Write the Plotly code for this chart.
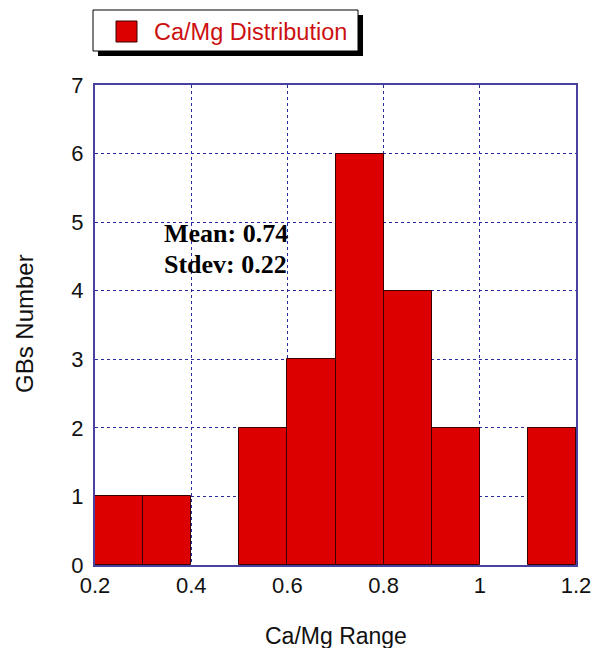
import plotly.graph_objects as go

# Data
bin_left = [0.2, 0.3, 0.4, 0.5, 0.6, 0.7, 0.8, 0.9, 1.0, 1.1]
counts = [1, 1, 0, 2, 3, 6, 4, 2, 0, 2]
bin_width = 0.1
x_ticks = [0.2, 0.4, 0.6, 0.8, 1.0, 1.2]
x_tick_labels = ["0.2", "0.4", "0.6", "0.8", "1", "1.2"]
y_ticks = [0, 1, 2, 3, 4, 5, 6, 7]
series_name = "Ca/Mg Distribution"
stats_lines = ["Mean: 0.74", "Stdev: 0.22"]

centers = [b + bin_width / 2 for b in bin_left]
edge_widths = [1 if c > 0 else 0 for c in counts]

# plot area in px
L, R, T, B = 95, 576, 85, 565
W, H = R - L, B - T
def px(xp):
    return (xp - L) / W
def py(yp):
    return (B - yp) / H

fig = go.Figure()
fig.add_trace(go.Bar(
    x=centers, y=counts, width=bin_width,
    marker=dict(color="#dd0000", line=dict(color="#3a0000", width=edge_widths)),
    name=series_name, showlegend=False, hoverinfo="skip",
))

axis_color = "#4a40a0"
common = dict(showgrid=True, gridcolor="#2a2aa0", griddash="dot", gridwidth=1,
              showline=True, linecolor=axis_color, linewidth=2, mirror=True,
              zeroline=False, ticks="outside", automargin=False,
              tickcolor="rgba(0,0,0,0)",
              tickfont=dict(family="Liberation Sans, Arial", size=22, color="#111"))

fig.update_xaxes(range=[0.2, 1.2], tickvals=x_ticks, ticktext=x_tick_labels, ticklen=0, **common)
fig.update_yaxes(range=[0, 7], tickvals=y_ticks, ticklen=5, **common)

shapes = [
    # legend shadow
    dict(type="rect", xref="paper", yref="paper", x0=px(98), x1=px(363), y0=py(15), y1=py(56),
         fillcolor="black", line=dict(width=0), layer="above"),
    # legend box
    dict(type="rect", xref="paper", yref="paper", x0=px(93), x1=px(358), y0=py(10), y1=py(51),
         fillcolor="white", line=dict(color="black", width=1), layer="above"),
    # legend marker
    dict(type="rect", xref="paper", yref="paper", x0=px(116), x1=px(137), y0=py(21), y1=py(42),
         fillcolor="#dd0000", line=dict(color="#3a0000", width=1), layer="above"),
]

annotations = [
    dict(text=series_name, xref="paper", yref="paper", x=px(152), y=py(32),
         xanchor="left", yanchor="middle", showarrow=False,
         font=dict(family="Liberation Sans, Arial", size=23.5, color="#cc1010")),
    dict(text="<b>%s</b>" % stats_lines[0], xref="paper", yref="paper",
         x=px(162), y=py(233), xanchor="left", yanchor="middle", showarrow=False,
         font=dict(family="Liberation Serif, Times New Roman", size=26, color="black")),
    dict(text="<b>%s</b>" % stats_lines[1], xref="paper", yref="paper",
         x=px(162), y=py(264), xanchor="left", yanchor="middle", showarrow=False,
         font=dict(family="Liberation Serif, Times New Roman", size=26, color="black")),
    dict(text="Ca/Mg Range", xref="paper", yref="paper", x=0.5, y=py(636),
         xanchor="center", yanchor="middle", showarrow=False,
         font=dict(family="Liberation Sans, Arial", size=23, color="#111")),
    dict(text="GBs Number", xref="paper", yref="paper", x=px(24), y=py(324),
         xanchor="center", yanchor="middle", showarrow=False, textangle=-90,
         font=dict(family="Liberation Sans, Arial", size=24, color="#111")),
]

fig.update_layout(
    width=593, height=648,
    margin=dict(l=L, r=593 - R, t=T, b=648 - B),
    paper_bgcolor="white", plot_bgcolor="white",
    bargap=0, showlegend=False, hovermode=False,
    shapes=shapes, annotations=annotations,
)

fig.write_html("out.html", config={"displayModeBar": False},
               post_script="document.body.style.margin='0';document.body.style.overflow='hidden';")
